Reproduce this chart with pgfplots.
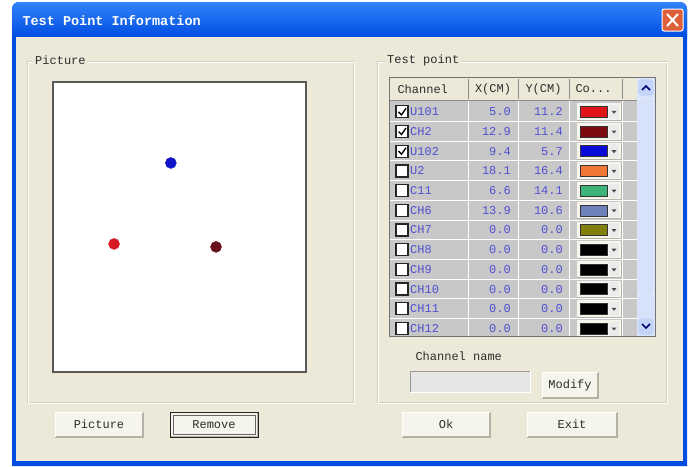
\documentclass[border=0pt]{standalone}
\usepackage{pgfplots}
\pgfplotsset{compat=1.18}
\usepackage{fontspec}
\setmainfont{Liberation Mono}
\definecolor{body}{RGB}{236,233,216}
\definecolor{xpblue}{RGB}{0,78,225}
\definecolor{xpblue2}{RGB}{50,130,250}
\definecolor{frameC}{RGB}{208,208,191}
\definecolor{rowgray}{RGB}{200,200,200}
\definecolor{txtblue}{RGB}{80,80,210}
\definecolor{txtdark}{RGB}{45,45,45}
\definecolor{btnfill}{RGB}{245,244,237}
\definecolor{btnshadow}{RGB}{180,178,165}
\definecolor{closered}{RGB}{222,96,58}
\definecolor{sbtrack}{RGB}{214,225,250}
\definecolor{sbbtn}{RGB}{196,212,248}
\definecolor{swA}{RGB}{225,20,25}
\definecolor{swB}{RGB}{125,10,15}
\definecolor{swC}{RGB}{10,10,215}
\definecolor{swD}{RGB}{240,120,55}
\definecolor{swE}{RGB}{60,180,120}
\definecolor{swF}{RGB}{110,130,185}
\definecolor{swG}{RGB}{128,128,10}
\definecolor{swH}{RGB}{0,0,0}
\definecolor{ptA}{RGB}{215,25,35}
\definecolor{ptB}{RGB}{105,15,25}
\definecolor{ptC}{RGB}{15,20,200}
\tikzset{btn/.style={fill=btnfill, draw=btnshadow, line width=0.8pt}}
\newcommand{\button}[5]{%
  \fill[btnfill] (#1,#2) rectangle (#3,#4);
  \draw[btnshadow, line width=1.5pt] (#1,#4) -- (#3,#4) -- (#3,#2);
  \draw[white, line width=1pt] (#1,#4) -- (#1,#2) -- (#3,#2);
  \node[text=txtdark, font=\fontsize{12}{12}\selectfont] at ({(#1+#3)/2},{(#2+#4)/2}) {#5};}
\begin{document}
\begin{tikzpicture}[x=1pt,y=-1pt]
\useasboundingbox (0,0) rectangle (695,466);
\fill[white] (0,0) rectangle (695,466);
% window frame
\fill[xpblue] (12,466) [rounded corners=7pt] -- (12,2) -- (687,2) [sharp corners] -- (687,466) -- cycle;
\shade[top color=xpblue2, bottom color=xpblue] (12,37) [rounded corners=7pt] -- (12,2) -- (687,2) [sharp corners] -- (687,37) -- cycle;
\fill[body] (16,37) rectangle (683,461);
\node[anchor=west, text=white, font=\bfseries\fontsize{13.5}{13.5}\selectfont] at (19,21) {Test Point Information};
% close button
\fill[closered, draw=white, line width=1pt, rounded corners=2pt] (662,9) rectangle (683,31);
\draw[white, line width=2pt] (667,14) -- (678,26) (678,14) -- (667,26);
% group boxes
\draw[frameC, line width=1pt] (27,61) rectangle (353,402);
\draw[white, line width=0.6pt] (28,62) rectangle (354,403);
\node[anchor=west, fill=body, inner sep=2pt, text=txtdark, font=\fontsize{12}{12}\selectfont] at (33,60) {Picture};
\draw[frameC, line width=1pt] (377,61) rectangle (666,402);
\draw[white, line width=0.6pt] (378,62) rectangle (667,403);
\node[anchor=west, fill=body, inner sep=2pt, text=txtdark, font=\fontsize{12}{12}\selectfont] at (385,60) {Test point};
% picture axis
\begin{axis}[at={(53pt,-82pt)}, anchor=north west, scale only axis,
  width=253pt, height=290pt,
  xmin=0.27, xmax=19.87, ymin=0.2, ymax=19.9, y dir=reverse,
  xtick=\empty, ytick=\empty,
  axis line style={draw=black!65, line width=1.6pt},
  axis background/.style={fill=white}]
\addplot[only marks, mark=*, mark size=5.5pt, draw=ptA, fill=ptA] coordinates {(5.0,11.2)};
\addplot[only marks, mark=*, mark size=5.5pt, draw=ptB, fill=ptB] coordinates {(12.9,11.4)};
\addplot[only marks, mark=*, mark size=5.5pt, draw=ptC, fill=ptC] coordinates {(9.4,5.7)};
\end{axis}
% list control
\fill[white] (389,77) rectangle (656,337);
\begin{scope}
\clip (390,78) rectangle (655,336);
\fill[body] (390,78) rectangle (637,100);
\fill[rowgray] (390,100) rectangle (637,336);
\foreach \xx in {468,518,569,622} {\draw[black!45, line width=0.8pt] (\xx,79) -- (\xx,99);}
\draw[black!45, line width=0.8pt] (390,100) -- (637,100);
\foreach \xx in {468,518,569,622} {\draw[white, line width=0.8pt] (\xx,101) -- (\xx,336);}
\foreach \i in {1,...,12} {\pgfmathsetmacro\yl{101.7+19.7*\i}\draw[white, line width=0.8pt] (390,\yl) -- (637,\yl);}
\node[anchor=west, text=txtdark, font=\fontsize{12}{12}\selectfont] at (394,89) {Channel};
\node[text=txtdark, font=\fontsize{12}{12}\selectfont] at (493,89) {X(CM)};
\node[text=txtdark, font=\fontsize{12}{12}\selectfont] at (543.5,89) {Y(CM)};
\node[anchor=west, text=txtdark, font=\fontsize{12}{12}\selectfont] at (572,89) {Co...};
\foreach \i/\nm/\xv/\yv/\col/\chk in {
 0/U101/5.0/11.2/swA/1,
 1/CH2/12.9/11.4/swB/1,
 2/U102/9.4/5.7/swC/1,
 3/U2/18.1/16.4/swD/0,
 4/C11/6.6/14.1/swE/0,
 5/CH6/13.9/10.6/swF/0,
 6/CH7/0.0/0.0/swG/0,
 7/CH8/0.0/0.0/swH/0,
 8/CH9/0.0/0.0/swH/0,
 9/CH10/0.0/0.0/swH/0,
 10/CH11/0.0/0.0/swH/0,
 11/CH12/0.0/0.0/swH/0}
{
 \pgfmathsetmacro\yc{111.8+19.7*\i}
 \draw[fill=white, draw=black!85, line width=1.3pt] (396,{\yc-6}) rectangle (408,{\yc+6});
 \ifnum\chk=1
   \draw[black, line width=1.4pt] (398.5,{\yc}) -- (401.5,{\yc+3}) -- (406,{\yc-3.5});
 \fi
 \node[anchor=west, inner sep=1pt, text=txtblue, font=\fontsize{12}{12}\selectfont] at (409,\yc) {\nm};
 \node[anchor=east, inner sep=1pt, text=txtblue, font=\fontsize{12}{12}\selectfont] at (512,\yc) {\xv};
 \node[anchor=east, inner sep=1pt, text=txtblue, font=\fontsize{12}{12}\selectfont] at (564,\yc) {\yv};
 \fill[btnfill] (577,{\yc-8.5}) rectangle (621,{\yc+8.5});
 \draw[btnshadow, line width=1pt] (577,{\yc+8.5}) -- (621,{\yc+8.5}) -- (621,{\yc-8.5});
 \fill[\col, draw=black!80, line width=0.6pt] (580,{\yc-5.5}) rectangle (607,{\yc+5.5});
 \fill[white!92!black] (609,{\yc-7}) rectangle (619,{\yc+7});
 \fill[black!70] (611.5,{\yc-1}) -- (616.5,{\yc-1}) -- (614,{\yc+2}) -- cycle;
}
% scrollbar
\fill[sbtrack] (637,78) rectangle (655,336);
\fill[sbbtn, draw=white, rounded corners=1.5pt] (638,79) rectangle (654,96);
\fill[sbbtn, draw=white, rounded corners=1.5pt] (638,318) rectangle (654,335);
\fill[sbbtn!70!white, draw=white, rounded corners=1.5pt] (638,98) rectangle (654,296);
\draw[blue!45!black, line width=1.5pt] (642,90) -- (646,86) -- (650,90);
\draw[blue!45!black, line width=1.5pt] (642,324) -- (646,328) -- (650,324);
\end{scope}
\draw[black!55, line width=0.8pt] (389.5,77.5) rectangle (655.5,336.5);
% channel name
\node[anchor=west, text=txtdark, font=\fontsize{12}{12}\selectfont] at (412,356) {Channel name};
\fill[white!90!black!95!body] (410,371) rectangle (530,392);
\draw[black!40, line width=0.8pt] (410,392) -- (410,371) -- (530,371);
\draw[white, line width=0.8pt] (410,392) -- (530,392) -- (530,371);
\button{542}{372}{598}{398}{Modify}
% bottom buttons
\button{55}{412}{143}{437}{Picture}
\button{170}{412}{258}{437}{Remove}
\draw[black!85, line width=1pt] (170,412) rectangle (258,437);
\draw[black!60, line width=0.5pt] (173,415) rectangle (255,434);
\button{402}{412}{490}{437}{Ok}
\button{527}{412}{617}{437}{Exit}
\end{tikzpicture}
\end{document}
